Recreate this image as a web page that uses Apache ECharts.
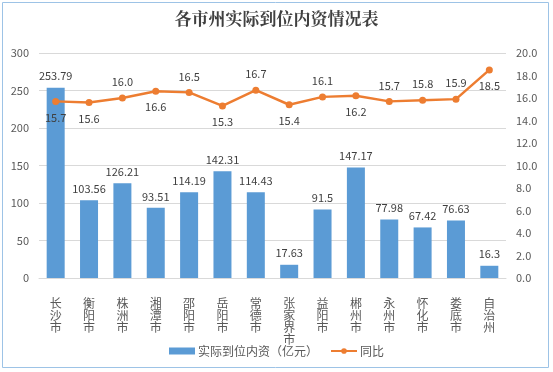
<!DOCTYPE html>
<html><head><meta charset="utf-8">
<script src="https://cdn.jsdelivr.net/npm/echarts@6/dist/echarts.min.js"></script>
<style>html,body{margin:0;padding:0;background:#fff}#c{width:553px;height:372px}</style>
</head><body><div id="c"></div>
<script>
const categories = ['长沙市','衡阳市','株洲市','湘潭市','邵阳市','岳阳市','常德市','张家界市','益阳市','郴州市','永州市','怀化市','娄底市','自治州'];
const investValues = [253.79,103.56,126.21,93.51,114.19,142.31,114.43,17.63,91.5,147.17,77.98,67.42,76.63,16.3];
const yoyValues = [15.7,15.6,16.0,16.6,16.5,15.3,16.7,15.4,16.1,16.2,15.7,15.8,15.9,18.5];
const yoyLabelPos = ['bottom','bottom','top','bottom','top','bottom','top','bottom','top','bottom','top','top','top','bottom'];
const seriesNames = ['实际到位内资（亿元）','同比'];
const titleText = '各市州实际到位内资情况表';

const font = '"Microsoft YaHei","Noto Sans CJK SC",sans-serif';
const chart = echarts.init(document.getElementById('c'), null, {renderer:'canvas'});
chart.setOption({
  backgroundColor:'#fff',
  animation:false,
  title:{text:titleText,left:'center',top:5,textStyle:{fontFamily:'"Noto Serif CJK SC","Noto Sans CJK SC",serif',fontSize:17,fontWeight:'bold',color:'#404040'}},
  graphic:[{type:'rect',shape:{x:2.5,y:2.5,width:546,height:365},style:{fill:null,stroke:'#9DC3E6',lineWidth:1},silent:true}],
  grid:{left:39,right:47,top:53,bottom:94,containLabel:false},
  legend:{bottom:10,left:'center',itemGap:12,itemWidth:26,itemHeight:7,
    textStyle:{fontFamily:font,fontSize:12,color:'#595959',padding:[0,0,0,-2]},
    data:[{name:seriesNames[0],icon:'rect'},{name:seriesNames[1]}]},
  xAxis:{type:'category',data:categories,
    axisLine:{lineStyle:{color:'#D9D9D9'}},axisTick:{show:false},
    axisLabel:{interval:0,margin:19,fontFamily:font,fontSize:12,color:'#595959',lineHeight:12,
      formatter:v=>v.split('').join('\n')}},
  yAxis:[
    {type:'value',min:0,max:300,interval:50,
     axisLine:{show:false},axisTick:{show:false},
     splitLine:{lineStyle:{color:'#D9D9D9'}},
     axisLabel:{fontFamily:font,fontSize:11,color:'#595959',margin:10,align:'right'}},
    {type:'value',min:0,max:20,interval:2,
     axisLine:{show:false},axisTick:{show:false},splitLine:{show:false},
     axisLabel:{fontFamily:font,fontSize:11,color:'#595959',margin:10,formatter:v=>v.toFixed(1)}}
  ],
  series:[
    {name:seriesNames[0],type:'bar',data:investValues,barWidth:18,
     itemStyle:{color:'#5B9BD5'},
     label:{show:true,position:'top',distance:6,fontFamily:font,fontSize:11,color:'#404040'}},
    {name:seriesNames[1],type:'line',yAxisIndex:1,
     data:yoyValues.map((v,i)=>({value:v,label:{position:yoyLabelPos[i]}})),
     symbol:'circle',symbolSize:7,
     lineStyle:{color:'#ED7D31',width:2.5},itemStyle:{color:'#ED7D31'},
     label:{show:true,distance:7,fontFamily:font,fontSize:11,color:'#404040',formatter:p=>p.value.toFixed(1)}}
  ]
});
</script></body></html>
